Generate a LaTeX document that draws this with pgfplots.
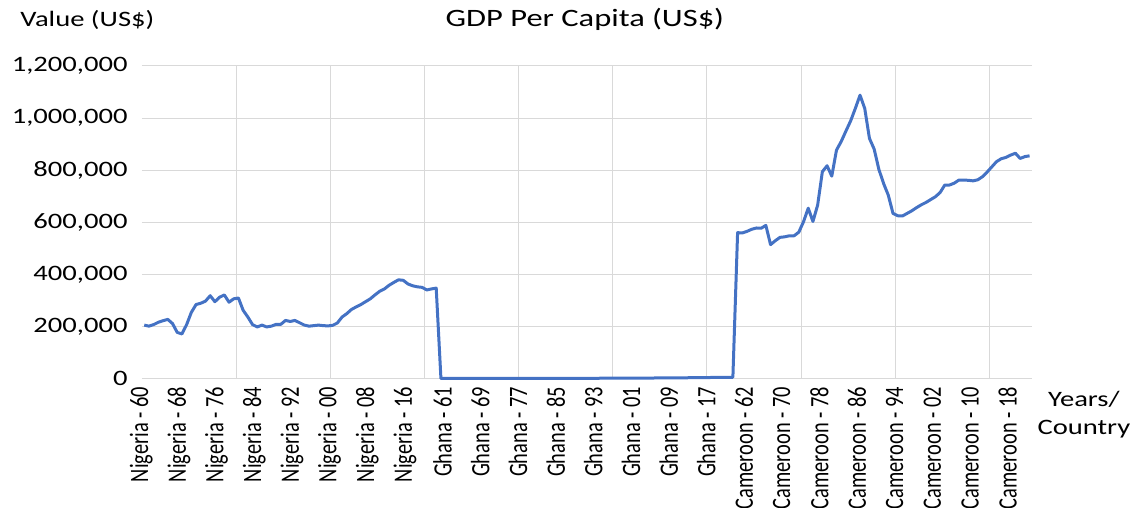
\documentclass[border=0pt]{standalone}
\usepackage{fontspec}
\setmainfont{Carlito}
\usepackage{graphicx}
\usepackage{pgfplots}
\pgfplotsset{compat=1.18}
\definecolor{xlblue}{HTML}{4472C4}
\definecolor{gridgray}{HTML}{D9D9D9}
% the source chart is stretched sideways, so text is widened to match
\newcommand\wide[1]{\scalebox{1.3}[1]{#1}}
\newcommand\xl[1]{\scalebox{1}[1.3]{#1}}

\begin{document}
\begin{tikzpicture}
\begin{axis}[
  name=ax,
  scale only axis,
  width=445pt, height=156.25pt,
  xmin=-0.5, xmax=188.5,
  ymin=0, ymax=1200000,
  clip=false,
  axis line style={draw=none},
  major tick length=0pt,
  xtick={0,8,...,184},
  xticklabels={\xl{Nigeria - 60},\xl{Nigeria - 68},\xl{Nigeria - 76},\xl{Nigeria - 84},
    \xl{Nigeria - 92},\xl{Nigeria - 00},\xl{Nigeria - 08},\xl{Nigeria - 16},
    \xl{Ghana - 61},\xl{Ghana - 69},\xl{Ghana - 77},\xl{Ghana - 85},
    \xl{Ghana - 93},\xl{Ghana - 01},\xl{Ghana - 09},\xl{Ghana - 17},
    \xl{Cameroon - 62},\xl{Cameroon - 70},\xl{Cameroon - 78},\xl{Cameroon - 86},
    \xl{Cameroon - 94},\xl{Cameroon - 02},\xl{Cameroon - 10},\xl{Cameroon - 18}},
  % shifts come after the rotation, so xshift moves down and yshift moves left
  xticklabel style={rotate=90, anchor=east, inner sep=0pt, xshift=-4pt, yshift=1.5pt,
    font=\fontsize{10.2}{12}\selectfont},
  extra x ticks={19.5,39.5,...,179.5},
  extra x tick labels={},
  extra x tick style={xmajorgrids=true},
  ytick={0,200000,...,1200000},
  scaled y ticks=false,
  ymajorgrids,
  grid style={gridgray, line width=0.5pt},
  yticklabel={\wide{\pgfmathprintnumber[fixed,precision=0,1000 sep={,},assume math mode=true]{\tick}}},
  yticklabel style={anchor=east, inner sep=0pt, xshift=-7pt,
    font=\fontsize{11}{13}\selectfont},
]
% Nigeria 0-62, Ghana 63-125, Cameroon 126-188
\addplot[xlblue, line width=1.5pt, line join=round, mark=none] coordinates {
  (0,205000) (1,201000) (2,207000) (3,216000) (4,222000) (5,227000)
  (6,211000) (7,177000) (8,171000) (9,207000) (10,254000) (11,284000)
  (12,289000) (13,297000) (14,318000) (15,295000) (16,312000) (17,321000)
  (18,293000) (19,306000) (20,309000) (21,262000) (22,236000) (23,207000)
  (24,198000) (25,205000) (26,198000) (27,201000) (28,208000) (29,208000)
  (30,223000) (31,219000) (32,223000) (33,214000) (34,205000) (35,201000)
  (36,203000) (37,205000) (38,203000) (39,202000) (40,204000) (41,213000)
  (42,236000) (43,249000) (44,265000) (45,275000) (46,284000) (47,295000)
  (48,306000) (49,321000) (50,335000) (51,344000) (52,358000) (53,369000)
  (54,379000) (55,377000) (56,363000) (57,356000) (58,352000) (59,350000)
  (60,340000) (61,344000) (62,347000)
  (63,30) (64,30) (65,35) (66,35) (67,40) (68,40) (69,45) (70,50) (71,55)
  (72,60) (73,70) (74,80) (75,100) (76,130) (77,160) (78,200) (79,250)
  (80,300) (81,350) (82,400) (83,430) (84,460) (85,500) (86,540) (87,580)
  (88,620) (89,660) (90,700) (91,740) (92,780) (93,820) (94,860) (95,900)
  (96,940) (97,980) (98,1020) (99,1060) (100,1100) (101,1200) (102,1300)
  (103,1400) (104,1500) (105,1600) (106,1700) (107,1800) (108,1900)
  (109,2000) (110,2100) (111,2200) (112,2300) (113,2400) (114,2600)
  (115,2800) (116,3000) (117,3200) (118,3400) (119,3600) (120,3800)
  (121,4000) (122,4200) (123,4400) (124,4600) (125,4800)
  (126,560000) (127,559000) (128,565000) (129,573000) (130,578000)
  (131,577000) (132,588000) (133,514000) (134,529000) (135,542000)
  (136,544000) (137,548000) (138,548000) (139,562000) (140,602000)
  (141,654000) (142,603000) (143,666000) (144,794000) (145,817000)
  (146,777000) (147,877000) (148,910000) (149,950000) (150,989000)
  (151,1037000) (152,1088000) (153,1037000) (154,922000) (155,881000)
  (156,803000) (157,749000) (158,704000) (159,634000) (160,625000)
  (161,624000) (162,634000) (163,644000) (164,656000) (165,667000)
  (166,676000) (167,687000) (168,698000) (169,714000) (170,743000)
  (171,743000) (172,750000) (173,762000) (174,762000) (175,761000)
  (176,759000) (177,763000) (178,775000) (179,793000) (180,813000)
  (181,833000) (182,844000) (183,849000) (184,858000) (185,865000)
  (186,845000) (187,852000) (188,855000)
};
\end{axis}
\node[anchor=base, font=\fontsize{12.5}{15}\selectfont]
  at ([shift={(221.5pt,175.75pt)}]ax.south west) {\wide{GDP Per Capita (US\$)}};
\node[anchor=base west, inner sep=0pt, font=\fontsize{11}{13}\selectfont]
  at ([shift={(-60.95pt,175.75pt)}]ax.south west) {\wide{Value (US\$)}};
\node[anchor=base, inner sep=0pt, font=\fontsize{11}{13}\selectfont]
  at ([shift={(471pt,-14.1pt)}]ax.south west) {\wide{Years/}};
\node[anchor=base, inner sep=0pt, font=\fontsize{11}{13}\selectfont]
  at ([shift={(471pt,-27.75pt)}]ax.south west) {\wide{Country}};
\pgfresetboundingbox
\path ([shift={(-70.95pt,-64.75pt)}]ax.south west) rectangle
      ([shift={(498.55pt,189.25pt)}]ax.south west);
\end{tikzpicture}
\end{document}
